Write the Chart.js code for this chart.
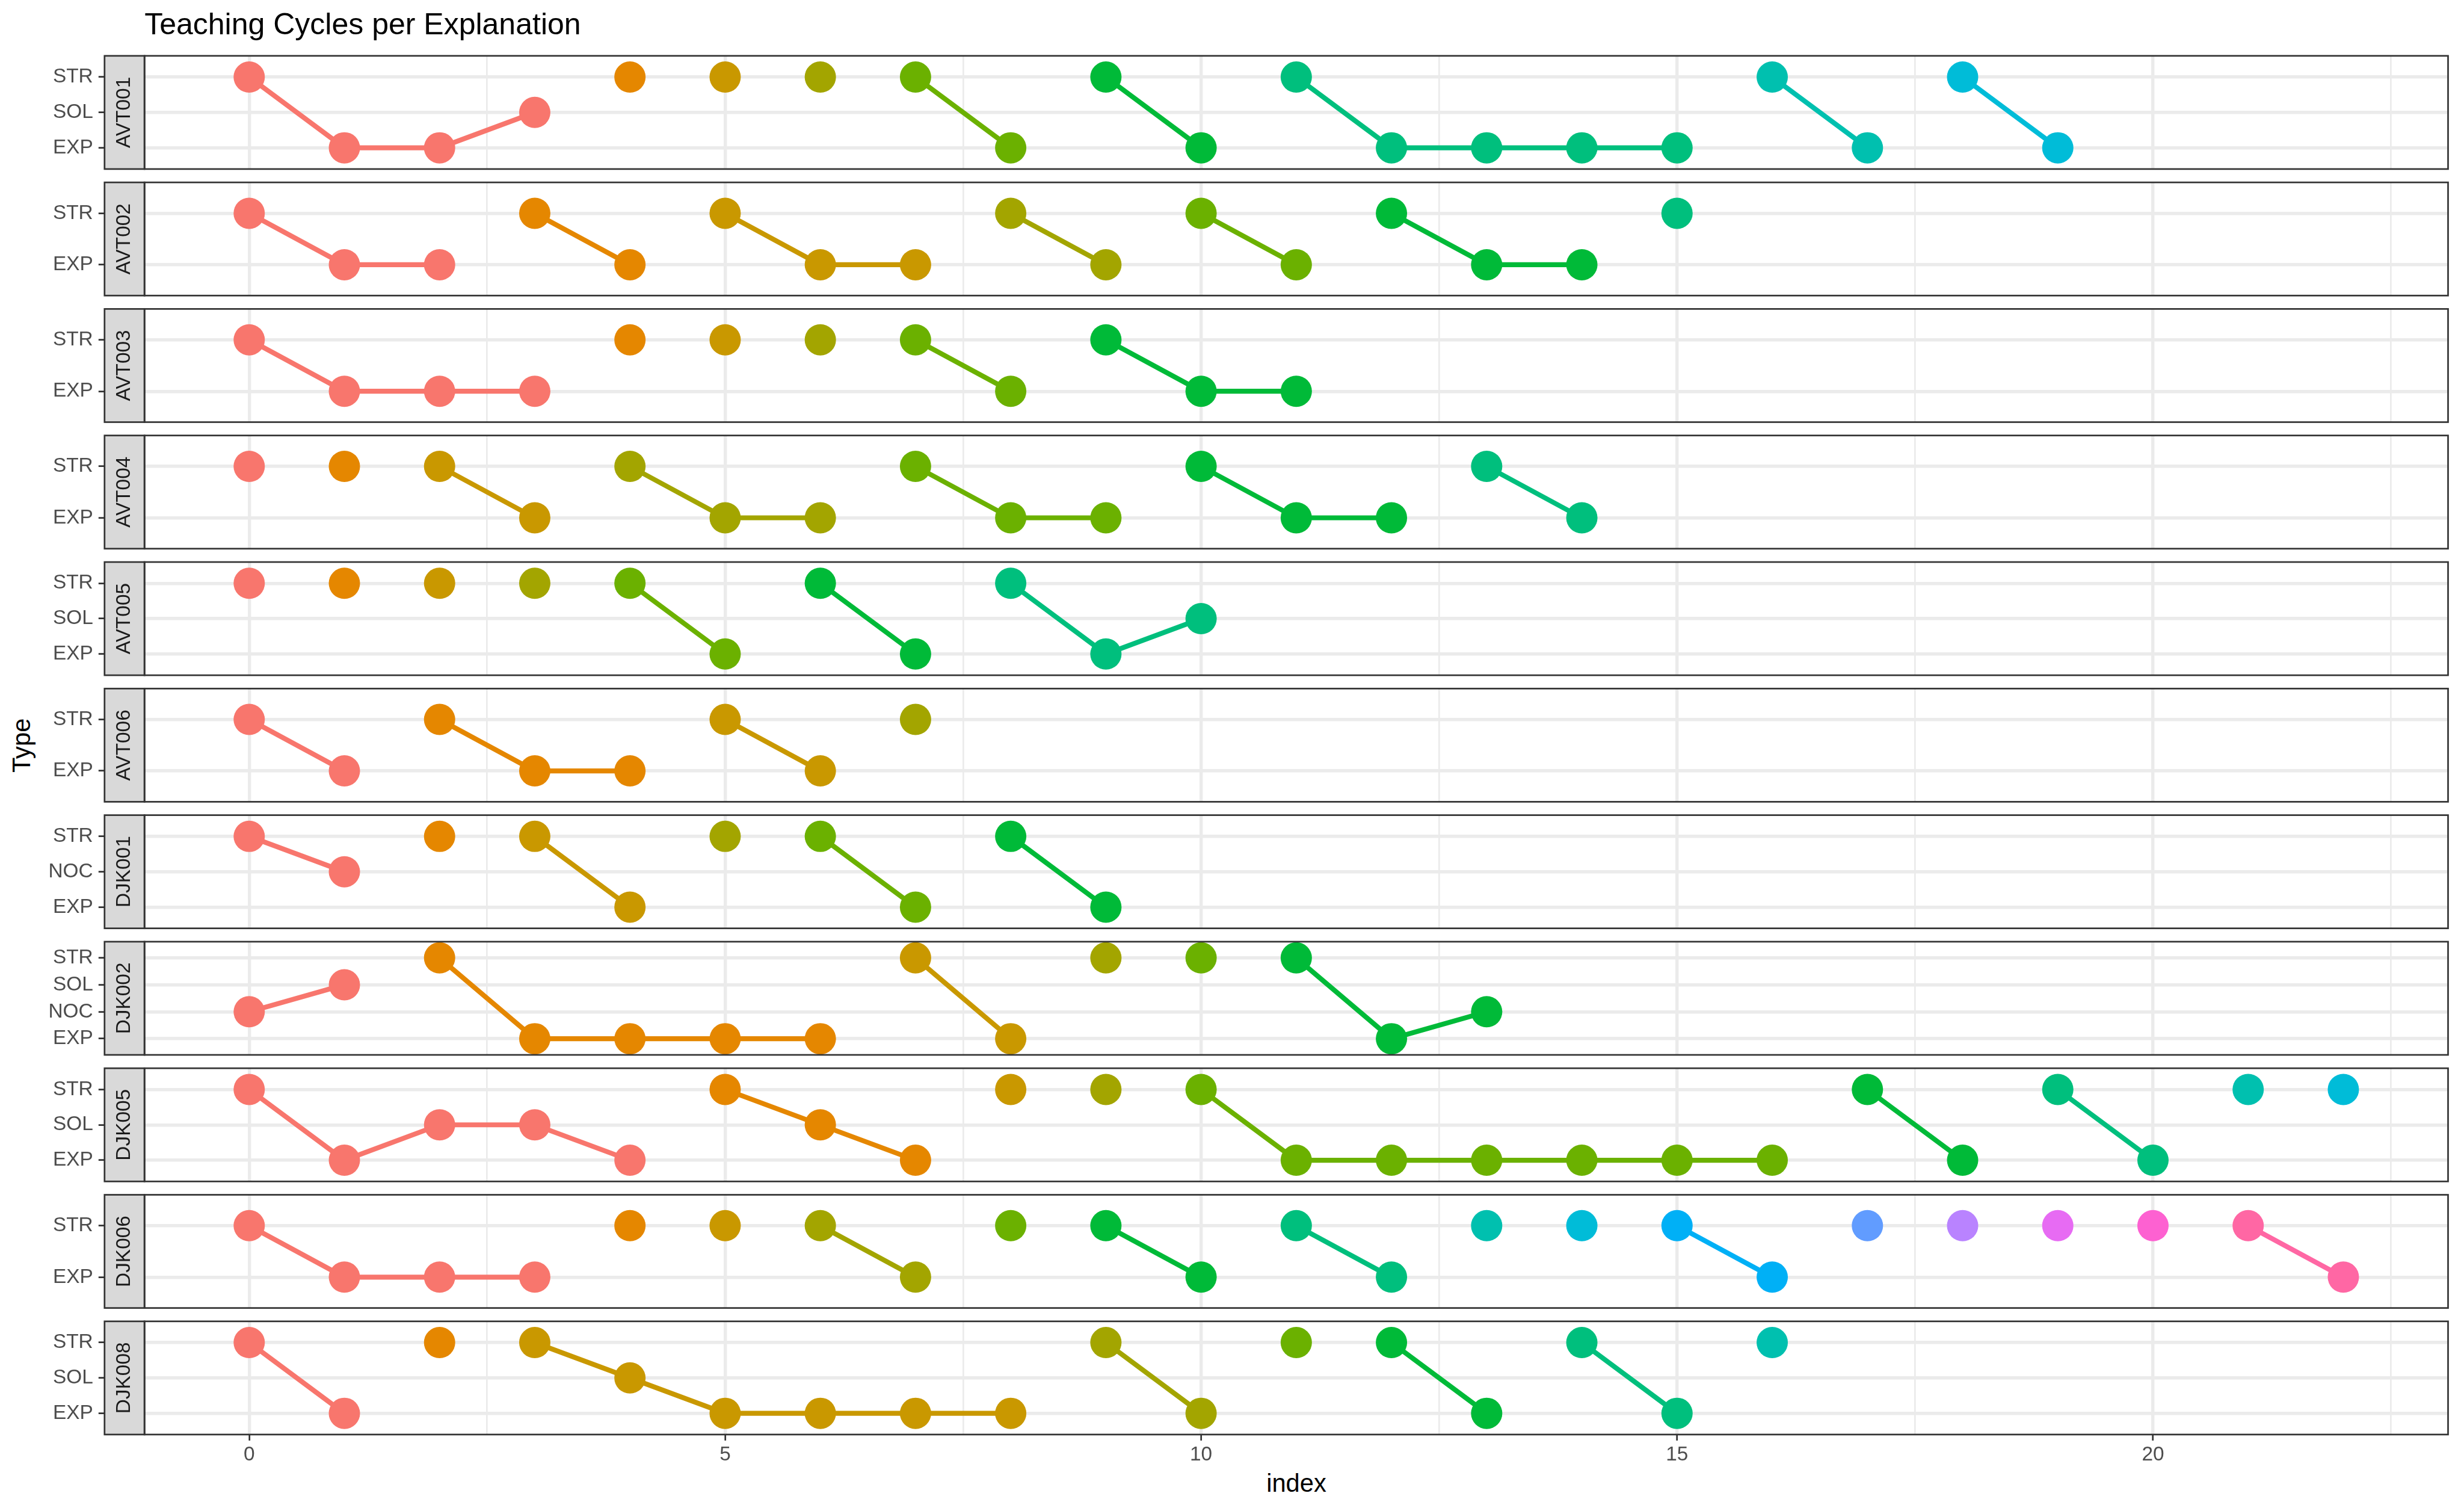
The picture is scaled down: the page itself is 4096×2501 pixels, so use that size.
<!DOCTYPE html>
<html>
<head>
<meta charset="utf-8">
<script src="https://cdn.jsdelivr.net/npm/chart.js@4/dist/chart.umd.min.js"></script>
<style>
html,body{margin:0;padding:0;background:#ffffff;}
body{width:4096px;height:2501px;position:relative;overflow:hidden;font-family:"Liberation Sans",Arial,sans-serif;}
canvas{position:absolute;left:0;}
.txt{position:absolute;white-space:nowrap;color:#000000;}
</style>
</head>
<body>
<div class="txt" style="left:240.2px;top:15px;font-size:50px;line-height:50px;">Teaching Cycles per Explanation</div>
<div class="txt" style="left:1955px;width:400px;text-align:center;top:2443.7px;font-size:41.7px;line-height:41.7px;">index</div>
<div class="txt" style="left:-64.4px;width:200px;text-align:center;top:1217.65px;font-size:41.7px;line-height:41.7px;transform:rotate(-90deg);">Type</div>
<script>
// ---------------- DATA ----------------
const panelNames = ['AVT001','AVT002','AVT003','AVT004','AVT005','AVT006','DJK001','DJK002','DJK005','DJK006','DJK008'];

// y categories per panel, bottom to top
const levelsAVT001 = ['EXP','SOL','STR'];
const levelsAVT002 = ['EXP','STR'];
const levelsAVT003 = ['EXP','STR'];
const levelsAVT004 = ['EXP','STR'];
const levelsAVT005 = ['EXP','SOL','STR'];
const levelsAVT006 = ['EXP','STR'];
const levelsDJK001 = ['EXP','NOC','STR'];
const levelsDJK002 = ['EXP','NOC','SOL','STR'];
const levelsDJK005 = ['EXP','SOL','STR'];
const levelsDJK006 = ['EXP','STR'];
const levelsDJK008 = ['EXP','SOL','STR'];

// Type at index 0,1,2,... and explanation group of each step
const typesAVT001  = ['STR','EXP','EXP','SOL','STR','STR','STR','STR','EXP','STR','EXP','STR','EXP','EXP','EXP','EXP','STR','EXP','STR','EXP'];
const groupsAVT001 = [1,1,1,1,2,3,4,5,5,6,6,7,7,7,7,7,8,8,9,9];

const typesAVT002  = ['STR','EXP','EXP','STR','EXP','STR','EXP','EXP','STR','EXP','STR','EXP','STR','EXP','EXP','STR'];
const groupsAVT002 = [1,1,1,2,2,3,3,3,4,4,5,5,6,6,6,7];

const typesAVT003  = ['STR','EXP','EXP','EXP','STR','STR','STR','STR','EXP','STR','EXP','EXP'];
const groupsAVT003 = [1,1,1,1,2,3,4,5,5,6,6,6];

const typesAVT004  = ['STR','STR','STR','EXP','STR','EXP','EXP','STR','EXP','EXP','STR','EXP','EXP','STR','EXP'];
const groupsAVT004 = [1,2,3,3,4,4,4,5,5,5,6,6,6,7,7];

const typesAVT005  = ['STR','STR','STR','STR','STR','EXP','STR','EXP','STR','EXP','SOL'];
const groupsAVT005 = [1,2,3,4,5,5,6,6,7,7,7];

const typesAVT006  = ['STR','EXP','STR','EXP','EXP','STR','EXP','STR'];
const groupsAVT006 = [1,1,2,2,2,3,3,4];

const typesDJK001  = ['STR','NOC','STR','STR','EXP','STR','STR','EXP','STR','EXP'];
const groupsDJK001 = [1,1,2,3,3,4,5,5,6,6];

const typesDJK002  = ['NOC','SOL','STR','EXP','EXP','EXP','EXP','STR','EXP','STR','STR','STR','EXP','NOC'];
const groupsDJK002 = [1,1,2,2,2,2,2,3,3,4,5,6,6,6];

const typesDJK005  = ['STR','EXP','SOL','SOL','EXP','STR','SOL','EXP','STR','STR','STR','EXP','EXP','EXP','EXP','EXP','EXP','STR','EXP','STR','EXP','STR','STR'];
const groupsDJK005 = [1,1,1,1,1,2,2,2,3,4,5,5,5,5,5,5,5,6,6,7,7,8,9];

const typesDJK006  = ['STR','EXP','EXP','EXP','STR','STR','STR','EXP','STR','STR','EXP','STR','EXP','STR','STR','STR','EXP','STR','STR','STR','STR','STR','EXP'];
const groupsDJK006 = [1,1,1,1,2,3,4,4,5,6,6,7,7,8,9,10,10,11,12,13,14,15,15];

const typesDJK008  = ['STR','EXP','STR','STR','SOL','EXP','EXP','EXP','EXP','STR','EXP','STR','STR','EXP','STR','EXP','STR'];
const groupsDJK008 = [1,1,2,3,3,3,3,3,3,4,4,5,6,6,7,7,8];

// x axis
const xMajorTicks = [0, 5, 10, 15, 20];
const xMinorTicks = [2.5, 7.5, 12.5, 17.5, 22.5];
const xRange = [-1.1, 23.1];

// ---------------- STYLE ----------------
const groupColors = ['#F8766D','#E58700','#C99800','#A3A500','#6BB100','#00BA38','#00BF7D','#00C0AF','#00BCD8','#00B0F6','#619CFF','#B983FF','#E76BF3','#FD61D1','#FF67A4'];
const FONT = '"Liberation Sans", Arial, sans-serif';
const PANEL_TOP0 = 92.8, PANEL_STEP = 210.3, PANEL_H = 188.1;
const PANEL_LEFT = 240.2, PANEL_RIGHT = 4069.5;
const STRIP_W = 66.4;
const GRID = '#EBEBEB', GRID_MAJ = 5.4, GRID_MIN = 2.7;
const DARK = '#333333', EDGE_W = 2.7;
const PT_R = 26, LINE_W = 8.2;

const panelLevels = [levelsAVT001,levelsAVT002,levelsAVT003,levelsAVT004,levelsAVT005,levelsAVT006,levelsDJK001,levelsDJK002,levelsDJK005,levelsDJK006,levelsDJK008];
const panelTypes  = [typesAVT001,typesAVT002,typesAVT003,typesAVT004,typesAVT005,typesAVT006,typesDJK001,typesDJK002,typesDJK005,typesDJK006,typesDJK008];
const panelGroups = [groupsAVT001,groupsAVT002,groupsAVT003,groupsAVT004,groupsAVT005,groupsAVT006,groupsDJK001,groupsDJK002,groupsDJK005,groupsDJK006,groupsDJK008];

const isMajor = v => xMajorTicks.indexOf(v) !== -1;

const panelDecor = {
  id: 'panelDecor',
  afterDraw(chart, args, opts) {
    const {ctx, chartArea: a} = chart;
    const h = a.bottom - a.top;
    const sx = a.left - STRIP_W;
    ctx.save();
    ctx.fillStyle = '#D9D9D9';
    ctx.fillRect(sx, a.top, STRIP_W, h);
    ctx.strokeStyle = DARK;
    ctx.lineWidth = EDGE_W;
    ctx.strokeRect(sx, a.top, STRIP_W, h);
    ctx.strokeRect(a.left, a.top, a.right - a.left, h);
    ctx.translate(sx + STRIP_W / 2, (a.top + a.bottom) / 2);
    ctx.rotate(-Math.PI / 2);
    ctx.fillStyle = '#1A1A1A';
    ctx.font = '33.4px ' + FONT;
    ctx.textAlign = 'center';
    ctx.textBaseline = 'middle';
    ctx.fillText(opts.label, 0, 0);
    ctx.restore();
  }
};

function makePanel(k) {
  const isLast = k === panelNames.length - 1;
  const levels = panelLevels[k], types = panelTypes[k], groups = panelGroups[k];
  const top = PANEL_TOP0 + k * PANEL_STEP;
  const canvasTop = Math.floor(top - 8);
  const padTop = top - canvasTop;
  const axisH = isLast ? 90 : 0;
  const canvasH = Math.ceil(padTop + PANEL_H + (isLast ? axisH : 8));
  const padBottom = canvasH - padTop - PANEL_H - axisH;

  const canvas = document.createElement('canvas');
  canvas.width = 4096;
  canvas.height = canvasH;
  canvas.style.top = canvasTop + 'px';
  document.body.appendChild(canvas);

  const groupIds = [...new Set(groups)];
  const datasets = groupIds.map(g => {
    const pts = [];
    types.forEach((t, i) => { if (groups[i] === g) pts.push({x: i, y: levels.indexOf(t) + 1}); });
    const c = groupColors[g - 1];
    return {
      data: pts, showLine: true, borderColor: c, backgroundColor: c,
      pointBackgroundColor: c, pointBorderColor: c, pointBorderWidth: 0,
      borderWidth: LINE_W, pointRadius: PT_R, pointHoverRadius: PT_R,
      tension: 0, clip: false
    };
  });

  new Chart(canvas, {
    type: 'scatter',
    data: {datasets},
    plugins: [panelDecor],
    options: {
      responsive: false, animation: false, devicePixelRatio: 1, events: [],
      layout: {autoPadding: false, padding: {left: 0, right: 4096 - PANEL_RIGHT, top: padTop, bottom: padBottom}},
      plugins: {legend: {display: false}, tooltip: {enabled: false}, title: {display: false}, panelDecor: {label: panelNames[k]}},
      scales: {
        x: {
          type: 'linear', position: 'bottom', min: xRange[0], max: xRange[1],
          afterBuildTicks: s => { s.ticks = xMajorTicks.concat(xMinorTicks).sort((a, b) => a - b).map(v => ({value: v})); },
          afterFit: s => { s.height = axisH; s.paddingLeft = 0; s.paddingRight = 0; s.paddingTop = 0; s.paddingBottom = 0; },
          border: {display: false},
          grid: {
            color: GRID,
            lineWidth: c => (c.tick && isMajor(c.tick.value)) ? GRID_MAJ : GRID_MIN,
            drawTicks: isLast, tickLength: 10, tickWidth: EDGE_W,
            tickColor: c => (c.tick && isMajor(c.tick.value)) ? DARK : 'rgba(0,0,0,0)'
          },
          ticks: {
            display: isLast, autoSkip: false, maxRotation: 0, minRotation: 0, padding: 3.4,
            color: '#4D4D4D', font: {family: FONT, size: 33.4},
            callback: v => isMajor(v) ? String(v) : ''
          }
        },
        y: {
          type: 'linear', position: 'left', min: 0.4, max: levels.length + 0.6,
          afterBuildTicks: s => { s.ticks = levels.map((_, j) => ({value: j + 1})); },
          afterFit: s => { s.width = PANEL_LEFT; s.paddingTop = 0; s.paddingBottom = 0; s.paddingLeft = 0; s.paddingRight = 0; },
          border: {display: false},
          grid: {color: GRID, lineWidth: GRID_MAJ, drawTicks: true, tickLength: 76.4, tickWidth: EDGE_W, tickColor: DARK},
          ticks: {
            autoSkip: false, padding: 9.1, color: '#4D4D4D', font: {family: FONT, size: 33.4},
            callback: v => levels[Math.round(v) - 1]
          }
        }
      }
    }
  });
}

panelNames.forEach((_, k) => makePanel(k));
</script>
</body>
</html>
